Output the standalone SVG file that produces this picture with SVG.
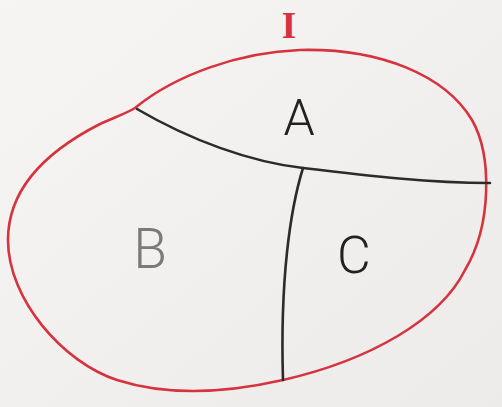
<svg xmlns="http://www.w3.org/2000/svg" width="502" height="407" viewBox="0 0 502 407">
  <defs>
    <linearGradient id="paper" x1="0" y1="0" x2="1" y2="1">
      <stop offset="0" stop-color="#f6f5f3"/>
      <stop offset="1" stop-color="#ecebe9"/>
    </linearGradient>
    <style>
      .red { fill: none; stroke: #d7333f; stroke-width: 2.6; stroke-linecap: round; stroke-linejoin: round; }
      .pen { fill: none; stroke: #2b2b2b; stroke-width: 2.6; stroke-linecap: round; }
      .lbl { font-family: Roboto, "Liberation Sans", Arial, sans-serif; font-weight: 300; text-anchor: middle; }
    </style>
  </defs>
  <rect x="0" y="0" width="502" height="407" fill="url(#paper)"/>
  <g id="set-I">
    <path class="red" d="M135,108 C175,75 240,52 300,50 C380,48 445,75 472,120 C492,155 492,225 465,270 C440,320 370,360 283,380 C230,392 170,397 117,380 C64,363 8,300 8,240 C8,190 45,152 100,124 C115,117 125,114 135,108 Z"/>
    <text x="289" y="38" fill="#d7333f" text-anchor="middle" style="font-family:'Liberation Serif','Times New Roman',serif;font-weight:bold" font-size="38">I</text>
  </g>
  <g id="connectors">
    <path class="pen" d="M137,109 C190,140 250,162 303,168 C370,176 430,183 490,183"/>
    <path class="pen" d="M303,168 C290,210 280,280 283,380"/>
  </g>
  <g id="region-A">
    <text class="lbl" x="299" y="135" fill="#222" font-size="50">A</text>
  </g>
  <g id="region-B">
    <text class="lbl" x="150" y="268" fill="#7a7a7a" font-size="55">B</text>
  </g>
  <g id="region-C">
    <text class="lbl" x="354" y="273" fill="#222" font-size="52">C</text>
  </g>
</svg>
